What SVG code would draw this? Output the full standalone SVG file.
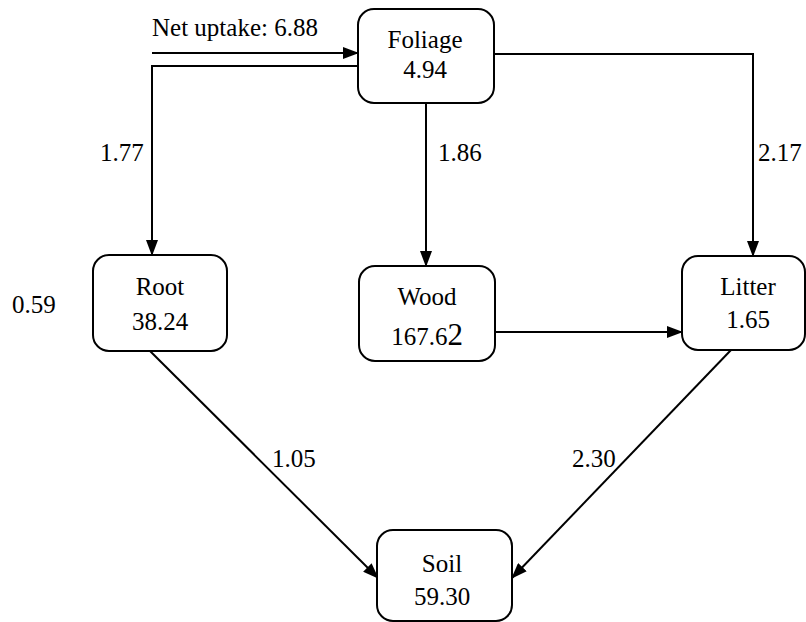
<svg xmlns="http://www.w3.org/2000/svg" width="806" height="622" viewBox="0 0 806 622">
  <style>
    .box { fill: #ffffff; stroke: #000000; stroke-width: 2; }
    text { font-family: 'Liberation Serif', Tinos, 'DejaVu Serif', serif; font-size: 25px; fill: #000000; }
    .mid { text-anchor: middle; }
    .edge { fill: none; stroke: #000000; stroke-width: 2; }
  </style>
  <defs>
    <marker id="arrow" markerUnits="userSpaceOnUse" markerWidth="16" markerHeight="12" refX="15" refY="6" orient="auto">
      <path d="M0,0 L16,6 L0,12 Z" fill="#000000"/>
    </marker>
  </defs>
  <rect width="806" height="622" fill="#ffffff"/>

  <g id="connectors">
    <!-- inflow to foliage -->
    <path class="edge" d="M152,53 L358,53" marker-end="url(#arrow)"/>
    <!-- foliage to root -->
    <path class="edge" d="M358,66 L152,66 L152,255" marker-end="url(#arrow)"/>
    <!-- foliage to wood -->
    <path class="edge" d="M426,103 L426,266" marker-end="url(#arrow)"/>
    <!-- foliage to litter -->
    <path class="edge" d="M494,54 L753,54 L753,256" marker-end="url(#arrow)"/>
    <!-- wood to litter -->
    <path class="edge" d="M495,332 L682,332" marker-end="url(#arrow)"/>
    <!-- root to soil -->
    <path class="edge" d="M150,351 L378,578" marker-end="url(#arrow)"/>
    <!-- litter to soil -->
    <path class="edge" d="M731,350 L512,578" marker-end="url(#arrow)"/>
    <!-- flow labels -->
    <text x="152" y="36">Net uptake: 6.88</text>
    <text x="100" y="161">1.77</text>
    <text x="438" y="161">1.86</text>
    <text x="758" y="161">2.17</text>
    <text x="272" y="467">1.05</text>
    <text x="572" y="467">2.30</text>
    <text x="12" y="313">0.59</text>
  </g>

  <g id="foliage">
    <rect class="box" x="358" y="9" width="136" height="94" rx="16"/>
    <text class="mid" x="425" y="48">Foliage</text>
    <text class="mid" x="425" y="78">4.94</text>
  </g>

  <g id="root">
    <rect class="box" x="93" y="255" width="134" height="96" rx="16"/>
    <text class="mid" x="160" y="295">Root</text>
    <text class="mid" x="160" y="330">38.24</text>
  </g>

  <g id="wood">
    <rect class="box" x="359" y="266" width="136" height="95" rx="16"/>
    <text class="mid" x="427" y="305">Wood</text>
    <text class="mid" x="427" y="345">167.6<tspan style="font-size:31px">2</tspan></text>
  </g>

  <g id="litter">
    <rect class="box" x="682" y="256" width="123" height="94" rx="16"/>
    <text class="mid" x="748" y="295">Litter</text>
    <text class="mid" x="748" y="328">1.65</text>
  </g>

  <g id="soil">
    <rect class="box" x="377" y="530" width="135" height="91" rx="16"/>
    <text class="mid" x="442" y="572">Soil</text>
    <text class="mid" x="442" y="605">59.30</text>
  </g>
</svg>
